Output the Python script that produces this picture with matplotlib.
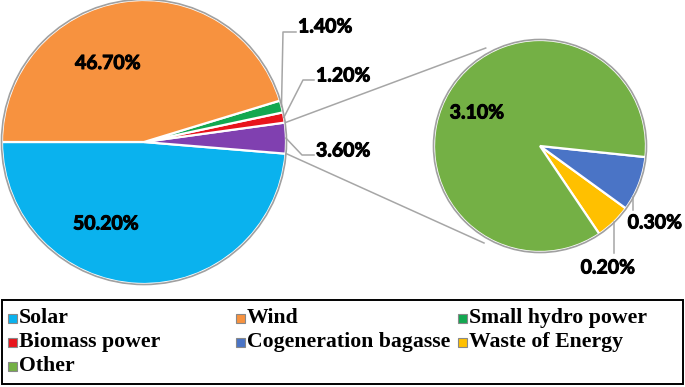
import numpy as np
import matplotlib
matplotlib.use("Agg")
import matplotlib.pyplot as plt
import matplotlib.patheffects as pe
from matplotlib.patches import Rectangle, Circle

# ---- data ----
main_labels = ["Solar", "Other", "Biomass power", "Small hydro power", "Wind"]
main_values = [50.2, 3.6, 1.2, 1.4, 46.7]
main_colors = ["#0AB2EE", "#8040B0", "#E8141C", "#12A850", "#F7923F"]

sub_labels = ["Waste of Energy", "Cogeneration bagasse", "Other"]
sub_values = [0.2, 0.3, 3.1]
sub_colors = ["#FFC000", "#4A74C6", "#74B045"]

legend_labels = ["Solar", "Wind", "Small hydro power", "Biomass power",
                 "Cogeneration bagasse", "Waste of Energy", "Other"]
legend_colors = ["#0AB2EE", "#F7923F", "#12A850", "#E8141C",
                 "#4A74C6", "#FFC000", "#74B045"]

W, H = 685, 387
fig = plt.figure(figsize=(W / 100, H / 100), dpi=100)
ax = fig.add_axes([0, 0, 1, 1])

def Y(yimg):
    return H - yimg

c1 = (144, Y(142)); r1 = 142
c2 = (540, Y(146)); r2 = 106

lab_font = dict(family=["Lato", "DejaVu Sans"], fontweight="bold", fontsize=14, color="black",
                path_effects=[pe.withStroke(linewidth=0.7, foreground="black")])

w1, _ = ax.pie(main_values, colors=main_colors, startangle=180, counterclock=True,
               center=c1, radius=r1, frame=True,
               wedgeprops=dict(edgecolor="white", linewidth=1.6))
w2, _ = ax.pie(sub_values, colors=sub_colors, startangle=-56, counterclock=True,
               center=c2, radius=r2, frame=True,
               wedgeprops=dict(edgecolor="white", linewidth=1.6))
for c, r in [(c1, r1), (c2, r2)]:
    ax.add_patch(Circle(c, r + 0.5, fill=False, edgecolor="#A0A0A0", linewidth=1.2, zorder=3))

def pt(c, r, ang):
    a = np.deg2rad(ang)
    return c[0] + r * np.cos(a), c[1] + r * np.sin(a)

# connection lines between "Other" wedge and secondary pie
other = w1[1]
p_top = pt(c1, r1 + 1, other.theta2)
p_bot = pt(c1, r1 + 1, other.theta1)
q_top = pt(c2, r2 + 6, 119)
q_bot = pt(c2, r2 + 6, -120)
ax.plot([p_top[0], q_top[0]], [p_top[1], q_top[1]], color="#A6A6A6", lw=1.1, zorder=1)
ax.plot([p_bot[0], q_bot[0]], [p_bot[1], q_bot[1]], color="#A6A6A6", lw=1.1, zorder=1)

# inner labels
ax.text(108, Y(63.5), f"{main_values[4]:.2f}%", ha="center", va="center", **lab_font)
ax.text(106, Y(224), f"{main_values[0]:.2f}%", ha="center", va="center", **lab_font)
ax.text(477, Y(113), f"{sub_values[2]:.2f}%", ha="center", va="center", **lab_font)

lc = "#A6A6A6"
# Small hydro
hy = w1[3]
s = pt(c1, r1, (hy.theta1 + hy.theta2) / 2)
ax.plot([s[0], 283, 296], [s[1], Y(32), Y(32)], color=lc, lw=1.1)
ax.text(298, Y(27), f"{main_values[3]:.2f}%", ha="left", va="center", **lab_font)
# Biomass
bi = w1[2]
s = pt(c1, r1, (bi.theta1 + bi.theta2) / 2)
ax.plot([s[0], 303, 314], [s[1], Y(80), Y(80)], color=lc, lw=1.1)
ax.text(316, Y(76), f"{main_values[2]:.2f}%", ha="left", va="center", **lab_font)
# Other
s = pt(c1, r1, (other.theta1 + other.theta2) / 2)
ax.plot([s[0], 302, 314], [s[1], Y(155), Y(155)], color=lc, lw=1.1)
ax.text(316, Y(151), f"{main_values[1]:.2f}%", ha="left", va="center", **lab_font)

# secondary outer labels
cg = w2[1]
s = pt(c2, r2, (cg.theta1 + cg.theta2) / 2 - 8)
ax.plot([s[0], s[0]], [s[1], Y(210)], color=lc, lw=1.1)
ax.text(655, Y(223), f"{sub_values[1]:.2f}%", ha="center", va="center", **lab_font)
ws = w2[0]
s = pt(c2, r2, (ws.theta1 + ws.theta2) / 2)
ax.plot([s[0], s[0]], [s[1], Y(253)], color=lc, lw=1.1)
ax.text(608, Y(268), f"{sub_values[0]:.2f}%", ha="center", va="center", **lab_font)

# legend (manual grid)
ax.add_patch(Rectangle((2, Y(384)), 681, 84, fill=False, edgecolor="black", linewidth=1.4, zorder=5))
col_x = [8, 236, 458]
row_y = [318, 342, 366]
for i, (lab, col) in enumerate(zip(legend_labels, legend_colors)):
    x = col_x[i % 3]; y = row_y[i // 3]
    ax.add_patch(Rectangle((x, Y(y) - 4.5), 9, 9, facecolor=col, edgecolor="#888888", linewidth=0.8, zorder=5))
    ax.text(x + 11, Y(y), lab, ha="left", va="center", family=["Liberation Serif", "DejaVu Serif"],
            fontweight="bold", fontsize=15.7, color="black")

ax.set_xlim(0, W)
ax.set_ylim(0, H)
ax.set_aspect("equal", adjustable="box")
ax.axis("off")
fig.savefig("out.png", dpi=100, facecolor="white")
